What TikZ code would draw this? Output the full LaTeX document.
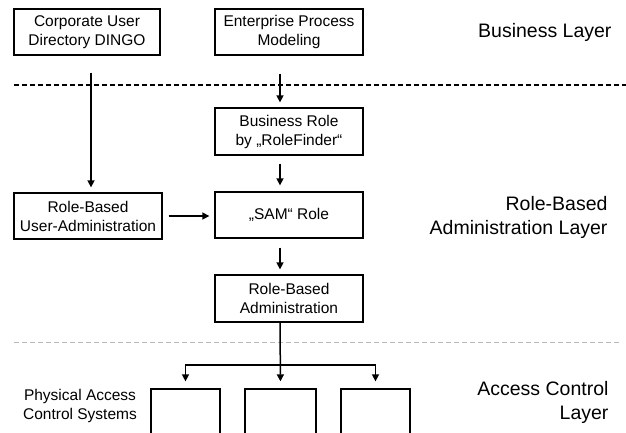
\documentclass[tikz,border=0pt]{standalone}
\usepackage{fontspec}
\setmainfont{Liberation Sans}
\usetikzlibrary{arrows.meta,calc}

\begin{document}
\begin{tikzpicture}[x=1pt,y=-1pt,
  boxtext/.style={font=\fontsize{15.5}{19}\selectfont},
  layertext/.style={font=\fontsize{19.5}{24}\selectfont, align=right, anchor=east},
  box/.style={draw, line width=1.3pt, rectangle, inner sep=0pt, align=center, boxtext},
  arr/.style={line width=1.5pt, -{Triangle[length=7pt,width=7pt]}},
  conn/.style={line width=1.5pt},
  layersep/.style={line width=1.6pt, dash pattern=on 5pt off 3pt},
  lightsep/.style={line width=0.8pt, gray!55, dash pattern=on 5pt off 3pt}]

\clip (0,0) rectangle (626,432);
\useasboundingbox (0,0) rectangle (626,432);

% layer separators
\draw[layersep] (14,85) -- (626,85);
\draw[lightsep] (14,342) -- (620,342);

% business layer
\node[box, minimum width=146pt, minimum height=46pt] (corp) at (87,32)
  {Corporate User\\Directory DINGO};
\node[box, minimum width=148pt, minimum height=46pt] (epm) at (289,32)
  {Enterprise Process\\Modeling};

% role-based administration layer
\node[box, minimum width=148pt, minimum height=47pt] (brole) at (289,131.5)
  {Business Role\\by „RoleFinder“};
\node[box, minimum width=148pt, minimum height=46pt] (sam) at (289,215)
  {„SAM“ Role};
\node[box, minimum width=148pt, minimum height=46pt] (rbua) at (88,216)
  {Role-Based\\User-Administration};
\node[box, minimum width=148pt, minimum height=47pt] (rba) at (289,298.5)
  {Role-Based\\Administration};

% access control layer
\node[box, minimum width=69pt, minimum height=60pt] (ac1) at (185.5,419) {};
\node[box, minimum width=71pt, minimum height=60pt] (ac2) at (280.5,419) {};
\node[box, minimum width=69pt, minimum height=60pt] (ac3) at (375.5,419) {};
\node[boxtext, align=center] (pacs) at (80,406) {Physical Access\\Control Systems};

% layer names
\node[layertext] (lbus) at (615,32) {Business Layer};
\node[layertext] (lrba) at (611,217) {Role-Based\\Administration Layer};
\node[layertext] (lacl) at (612,402) {Access Control\\Layer};

% connectors
\draw[arr, shorten <=17pt, shorten >=5pt]
  ([xshift=4pt]corp.south) -- ([xshift=4pt]corp.south |- rbua.north);
\draw[arr, shorten <=18pt, shorten >=5pt]
  ([xshift=-9pt]epm.south) -- ([xshift=-9pt]epm.south |- brole.north);
\draw[arr, shorten <=8pt, shorten >=6pt]
  ([xshift=-9pt]brole.south) -- ([xshift=-9pt]brole.south |- sam.north);
\draw[arr, shorten <=9pt, shorten >=5pt]
  ([xshift=-9pt]sam.south) -- ([xshift=-9pt]sam.south |- rba.north);
\draw[arr, shorten <=6pt, shorten >=5pt]
  (rbua.east) -- (rbua.east -| sam.west);

\coordinate (fork) at ([xshift=-9pt]rba.south |- 0,365);
\draw[arr, shorten >=7pt] ([xshift=-9pt]rba.south) -- (ac2.north);
\draw[arr, shorten >=7pt] (fork) -| (ac1.north);
\draw[arr, shorten >=7pt] (fork) -| (ac3.north);
\end{tikzpicture}
\end{document}
